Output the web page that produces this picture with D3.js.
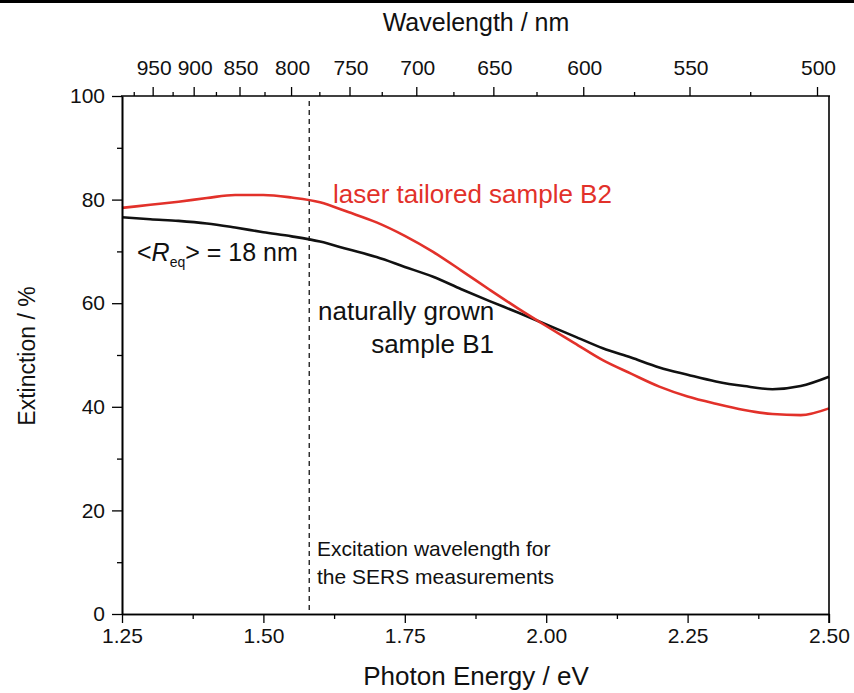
<!DOCTYPE html>
<html>
<head>
<meta charset="utf-8">
<script src="https://cdn.jsdelivr.net/npm/d3@7"></script>
<style>
  body { margin: 0; background: #fff; }
  text { font-family: "Liberation Sans", Arial, sans-serif; }
</style>
</head>
<body>
<div id="chart"></div>
<script>
// photon energy grid (eV)
const energy = [1.25, 1.30, 1.35, 1.40, 1.45, 1.50, 1.55, 1.60, 1.65, 1.70, 1.75, 1.80, 1.85,
                1.90, 1.95, 2.00, 2.05, 2.10, 2.15, 2.20, 2.25, 2.30, 2.35, 2.40, 2.45, 2.50];
// naturally grown sample B1 (black)
const extinctionB1 = [76.6, 76.2, 75.9, 75.4, 74.6, 73.7, 72.9, 71.9, 70.4, 68.9, 67.0, 65.1, 62.7,
                      60.4, 58.2, 55.9, 53.6, 51.3, 49.5, 47.6, 46.2, 44.9, 44.0, 43.4, 44.0, 45.8];
// laser tailored sample B2 (red)
const extinctionB2 = [78.4, 79.0, 79.6, 80.3, 80.9, 80.9, 80.4, 79.5, 77.6, 75.6, 73.0, 69.9, 66.3,
                      62.6, 59.0, 55.6, 52.3, 49.0, 46.4, 43.9, 42.0, 40.6, 39.4, 38.6, 38.4, 39.7];

const energyTicks = [1.25, 1.50, 1.75, 2.00, 2.25, 2.50];
const energyMinor = [1.375, 1.625, 1.875, 2.125, 2.375];
const extinctionTicks = [0, 20, 40, 60, 80, 100];
const extinctionMinor = [10, 30, 50, 70, 90];
const wavelengthTicks = [950, 900, 850, 800, 750, 700, 650, 600, 550, 500];
const wavelengthMinor = [975, 925, 875, 825, 775, 725, 675, 625, 575, 525];
const excitationEnergy = 1.581; // 785 nm

const width = 854, height = 693;
const margin = { left: 122, right: 25, top: 96, bottom: 79 };
const chartWidth = width - margin.left - margin.right;
const chartHeight = height - margin.top - margin.bottom;
const red = '#e2312a';
const ink = '#111';
const tickFont = '21px';

const svg = d3.select('#chart').append('svg')
    .attr('width', width)
    .attr('height', height);

// page rule at the top
svg.append('rect').attr('x', 0).attr('y', 0).attr('width', width).attr('height', 3).attr('fill', '#000');

const g = svg.append('g').attr('transform', `translate(${margin.left},${margin.top})`);

const x = d3.scaleLinear().domain([1.25, 2.50]).range([0, chartWidth]);
const y = d3.scaleLinear().domain([0, 100]).range([chartHeight, 0]);
const hc = 1239.84; // eV*nm

// dashed excitation line
g.append('line')
    .attr('x1', x(excitationEnergy)).attr('x2', x(excitationEnergy))
    .attr('y1', 5).attr('y2', chartHeight)
    .attr('stroke', '#000').attr('stroke-width', 1.2)
    .attr('stroke-dasharray', '5,4');

// data lines
const line = (vals) => d3.line()
    .x((d, i) => x(energy[i]))
    .y(d => y(d))
    .curve(d3.curveMonotoneX)(vals);

g.append('path').attr('d', line(extinctionB1))
    .attr('fill', 'none').attr('stroke', ink).attr('stroke-width', 2.6);
g.append('path').attr('d', line(extinctionB2))
    .attr('fill', 'none').attr('stroke', red).attr('stroke-width', 2.6);

// axes
const styleAxis = (sel) => {
    sel.select('.domain').attr('stroke', '#000').attr('stroke-width', 1.6);
    sel.selectAll('.tick line').attr('stroke', '#000').attr('stroke-width', 1.3);
    sel.selectAll('text').style('font-family', '"Liberation Sans", Arial, sans-serif')
        .style('font-size', tickFont).attr('fill', ink);
};

// bottom
g.append('g').attr('transform', `translate(0,${chartHeight})`)
    .call(d3.axisBottom(x).tickValues(energyMinor).tickSize(5).tickFormat('').tickSizeOuter(0))
    .call(styleAxis);
g.append('g').attr('transform', `translate(0,${chartHeight})`)
    .call(d3.axisBottom(x).tickValues(energyTicks).tickSize(9).tickPadding(5)
        .tickFormat(d3.format('.2f')).tickSizeOuter(0))
    .call(styleAxis);

// left
g.append('g')
    .call(d3.axisLeft(y).tickValues(extinctionMinor).tickSize(5).tickFormat('').tickSizeOuter(0))
    .call(styleAxis);
g.append('g')
    .call(d3.axisLeft(y).tickValues(extinctionTicks).tickSize(10).tickPadding(7).tickSizeOuter(0))
    .call(styleAxis);

// top wavelength axis
const xTop = (nm) => x(hc / nm);
const topMinor = g.append('g');
topMinor.selectAll('line').data(wavelengthMinor).join('line')
    .attr('x1', d => xTop(d)).attr('x2', d => xTop(d))
    .attr('y1', 0).attr('y2', -4)
    .attr('stroke', '#000').attr('stroke-width', 1.3);
const topMajor = g.append('g');
topMajor.selectAll('line').data(wavelengthTicks).join('line')
    .attr('x1', d => xTop(d)).attr('x2', d => xTop(d))
    .attr('y1', 0).attr('y2', -9)
    .attr('stroke', '#000').attr('stroke-width', 1.3);
topMajor.selectAll('text').data(wavelengthTicks).join('text')
    .attr('x', d => xTop(d) + 1).attr('y', -21)
    .attr('text-anchor', 'middle')
    .style('font-size', tickFont).attr('fill', ink)
    .text(d => d);

// frame: top and right
g.append('line').attr('x1', -1).attr('x2', chartWidth + 1).attr('y1', 0).attr('y2', 0)
    .attr('stroke', '#000').attr('stroke-width', 1.6);
g.append('line').attr('x1', chartWidth).attr('x2', chartWidth).attr('y1', 0).attr('y2', chartHeight + 9)
    .attr('stroke', '#000').attr('stroke-width', 1.6);

// axis titles
svg.append('text')
    .attr('x', 476).attr('y', 31)
    .attr('text-anchor', 'middle')
    .style('font-size', '25px').attr('fill', ink)
    .text('Wavelength / nm');

svg.append('text')
    .attr('x', 476).attr('y', 685)
    .attr('text-anchor', 'middle')
    .style('font-size', '26px').attr('fill', ink)
    .text('Photon Energy / eV');

svg.append('text')
    .attr('transform', 'rotate(-90)')
    .attr('x', -356).attr('y', 35)
    .attr('text-anchor', 'middle')
    .style('font-size', '23px').attr('fill', ink)
    .text('Extinction / %');

// annotations
svg.append('text')
    .attr('x', 333).attr('y', 203)
    .style('font-size', '26px').attr('fill', red)
    .text('laser tailored sample B2');

svg.append('text')
    .attr('x', 318).attr('y', 320)
    .style('font-size', '26px').attr('fill', ink)
    .text('naturally grown');
svg.append('text')
    .attr('x', 494).attr('y', 353)
    .attr('text-anchor', 'end')
    .style('font-size', '26px').attr('fill', ink)
    .text('sample B1');

const req = svg.append('text')
    .attr('x', 137).attr('y', 261)
    .style('font-size', '25px').attr('fill', ink);
req.append('tspan').text('<');
req.append('tspan').style('font-style', 'italic').text('R');
req.append('tspan').attr('dy', 6).style('font-size', '14px').text('eq');
req.append('tspan').attr('dy', -6).text('> = 18 nm');

svg.append('text')
    .attr('x', 317).attr('y', 556)
    .style('font-size', '21px').attr('fill', ink)
    .text('Excitation wavelength for');
svg.append('text')
    .attr('x', 317).attr('y', 584)
    .style('font-size', '21px').attr('fill', ink)
    .text('the SERS measurements');
</script>
</body>
</html>
